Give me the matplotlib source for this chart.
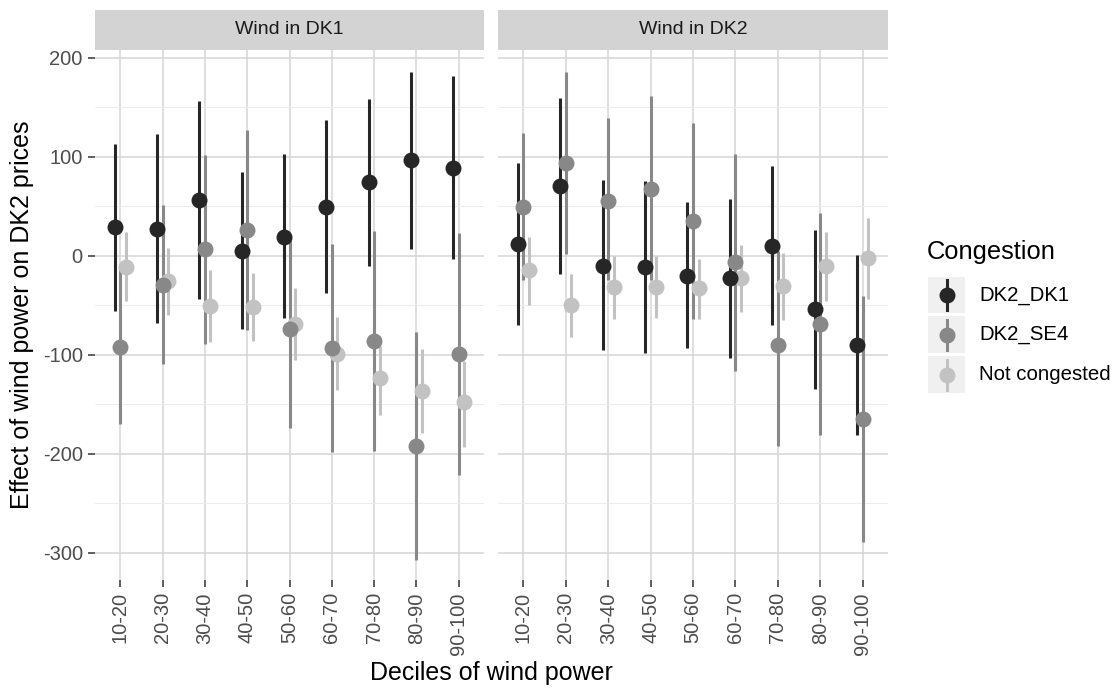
import numpy as np
from matplotlib import pyplot as plt
from matplotlib.patches import Rectangle

plt.rcParams['font.family'] = ['Liberation Sans', 'DejaVu Sans']

deciles = ['10-20', '20-30', '30-40', '40-50', '50-60', '60-70', '70-80', '80-90', '90-100']
panels = ['Wind in DK1', 'Wind in DK2']
groups = ['DK2_DK1', 'DK2_SE4', 'Not congested']

# Wind in DK1
dk1_dk1_est = [28.6, 27.5, 55.8, 5.1, 19.4, 49.0, 74.5, 96.6, 88.8]
dk1_dk1_lo = [-55.8, -67.7, -43.9, -73.8, -62.9, -38.1, -9.9, 7.1, -3.7]
dk1_dk1_hi = [113.0, 122.8, 155.8, 84.7, 102.4, 136.7, 158.8, 185.7, 181.6]
dk1_se4_est = [-91.8, -29.3, 6.5, 26.5, -73.5, -93.2, -86.4, -191.8, -99.3]
dk1_se4_lo = [-169.7, -109.5, -89.1, -74.5, -174.0, -198.6, -197.0, -306.8, -221.4]
dk1_se4_hi = [-12.0, 51.4, 101.7, 127.2, 17.0, 12.2, 24.8, -77.2, 23.1]
dk1_nc_est = [-10.9, -25.9, -50.7, -51.4, -68.7, -99.0, -123.1, -136.7, -147.6]
dk1_nc_lo = [-45.6, -59.9, -87.4, -85.7, -105.0, -136.0, -161.2, -178.9, -193.5]
dk1_nc_hi = [23.5, 7.8, -14.3, -17.7, -32.7, -61.6, -91.5, -94.2, -106.8]

# Wind in DK2
dk2_dk1_est = [11.6, 70.7, -9.9, -11.6, -20.1, -22.8, 10.2, -54.1, -89.8]
dk2_dk1_lo = [-70.4, -18.7, -95.6, -98.3, -93.5, -103.4, -70.4, -135.0, -180.6]
dk2_dk1_hi = [93.9, 159.5, 76.2, 75.9, 54.1, 57.5, 90.5, 25.9, 1.0]
dk2_se4_est = [49.7, 93.9, 55.4, 67.3, 35.0, -6.5, -89.8, -68.7, -164.6]
dk2_se4_lo = [-24.5, 1.4, -25.0, -25.0, -64.3, -116.0, -191.8, -180.6, -288.8]
dk2_se4_hi = [123.5, 185.7, 139.1, 160.9, 133.7, 102.4, 5.0, 43.5, -40.5]
dk2_nc_est = [-14.3, -50.0, -32.0, -31.3, -33.0, -22.1, -31.0, -10.2, -2.0]
dk2_nc_lo = [-49.7, -82.3, -64.3, -62.9, -64.3, -56.8, -65.0, -45.6, -43.9]
dk2_nc_hi = [19.0, -18.7, -0.7, -0.7, -3.1, 11.2, 2.7, 24.1, 38.4]

panel_data = [
    {'DK2_DK1': (dk1_dk1_est, dk1_dk1_lo, dk1_dk1_hi),
     'DK2_SE4': (dk1_se4_est, dk1_se4_lo, dk1_se4_hi),
     'Not congested': (dk1_nc_est, dk1_nc_lo, dk1_nc_hi)},
    {'DK2_DK1': (dk2_dk1_est, dk2_dk1_lo, dk2_dk1_hi),
     'DK2_SE4': (dk2_se4_est, dk2_se4_lo, dk2_se4_hi),
     'Not congested': (dk2_nc_est, dk2_nc_lo, dk2_nc_hi)},
]

colors = {'DK2_DK1': '#262626', 'DK2_SE4': '#888888', 'Not congested': '#c2c2c2'}
offsets = {'DK2_DK1': -0.13, 'DK2_SE4': 0.0, 'Not congested': 0.13}
point_order = ['Not congested', 'DK2_DK1', 'DK2_SE4']

W, H = 1117, 691
fig = plt.figure(figsize=(W / 100, H / 100), dpi=100)

def fx(px):
    return px / W

def fy(py):
    return 1 - py / H

panel_x = [(95, 484), (498, 888)]
top, bottom = 50, 580

xs = np.arange(1, len(deciles) + 1)

for i, (x0, x1) in enumerate(panel_x):
    ax = fig.add_axes([fx(x0), fy(bottom), fx(x1) - fx(x0), fy(top) - fy(bottom)])
    ax.set_xlim(0.4, 9.6)
    ax.set_ylim(-327.5, 207.8)
    ax.set_facecolor('white')
    for s in ax.spines.values():
        s.set_visible(False)
    ax.set_yticks([200, 100, 0, -100, -200, -300])
    ax.set_yticks([150, 50, -50, -150, -250], minor=True)
    ax.set_xticks(xs)
    ax.set_xticklabels(deciles, rotation=90, fontsize=14.5, color='#4d4d4d')
    ax.grid(which='major', color='#d6d6d6', linewidth=1.1, zorder=0)
    ax.grid(which='minor', axis='y', color='#ececec', linewidth=0.7, zorder=0)
    ax.set_axisbelow(True)
    ax.tick_params(axis='both', which='major', length=4.8, width=1.1, color='#333333', pad=4)
    ax.tick_params(axis='y', which='minor', length=0)
    if i == 0:
        ax.set_yticklabels(['200', '100', '0', '-100', '-200', '-300'], fontsize=14.5, color='#4d4d4d')
    else:
        ax.tick_params(axis='y', which='major', length=0, labelleft=False)

    d = panel_data[i]
    # lines first, then points (as pointrange does)
    for g in groups:
        est, lo, hi = d[g]
        ax.vlines(xs + offsets[g], lo, hi, color=colors[g], linewidth=2.2, zorder=2)
    for g in point_order:
        est, lo, hi = d[g]
        ax.plot(xs + offsets[g], est, 'o', color=colors[g], markersize=11.5,
                markeredgewidth=0, zorder=3)

    # strip
    fig.patches.append(Rectangle((fx(x0), fy(50)), fx(x1) - fx(x0), fy(10) - fy(50),
                                 transform=fig.transFigure, facecolor='#d3d3d3',
                                 edgecolor='none'))
    fig.text(fx((x0 + x1) / 2), fy(30), panels[i], ha='center', va='center',
             fontsize=14, color='#1a1a1a')

fig.text(fx(491), fy(673), 'Deciles of wind power', ha='center', va='center', fontsize=18)
fig.text(fx(22), fy(315), 'Effect of wind power on DK2 prices', ha='center', va='center',
         rotation=90, fontsize=18)

# legend
fig.text(fx(927), fy(252), 'Congestion', ha='left', va='center', fontsize=18.4)
key_centers = [295, 334.5, 374.5]
lax = fig.add_axes([0, 0, 1, 1], facecolor='none')
lax.set_xlim(0, W)
lax.set_ylim(H, 0)
lax.axis('off')
for g, cy in zip(groups, key_centers):
    lax.add_patch(Rectangle((928, cy - 18.3), 37, 36.6, facecolor='#f0f0f0', edgecolor='none'))
    lax.plot([946.5, 946.5], [cy - 15, cy + 15], color=colors[g], linewidth=2.2)
    lax.plot([946.5], [cy], 'o', color=colors[g], markersize=11.5, markeredgewidth=0)
    lax.text(979, cy, g, ha='left', va='center', fontsize=14.7)

plt.savefig('out.png', dpi=100)
